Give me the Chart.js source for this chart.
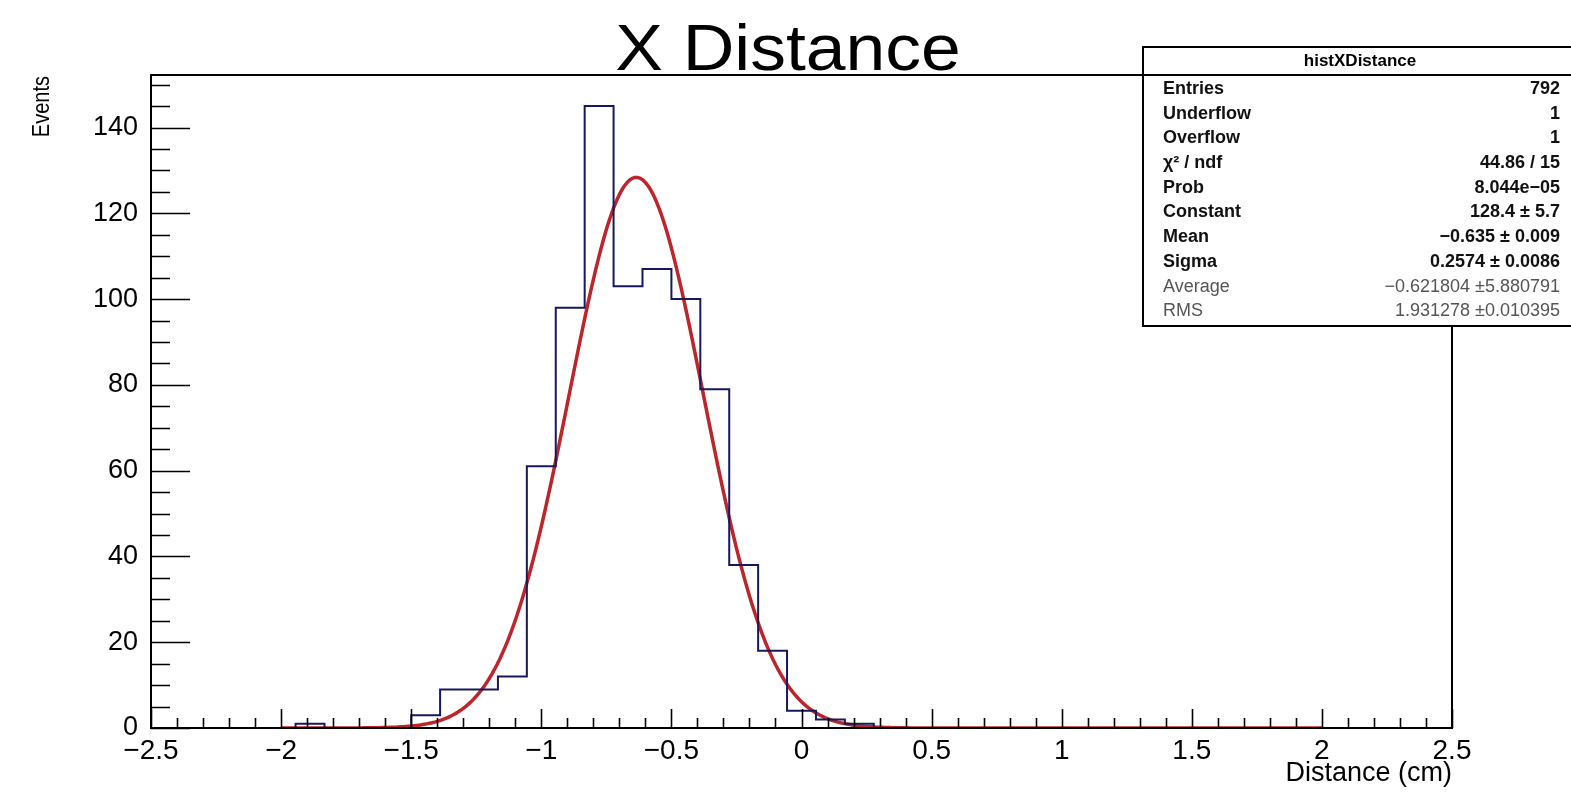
<!DOCTYPE html>
<html>
<head>
<meta charset="utf-8">
<title>X Distance</title>
<script src="https://cdn.jsdelivr.net/npm/chart.js@4"></script>
<style>
  body { margin: 0; background: #fff; }
  canvas { display: block; }
</style>
</head>
<body>
<canvas id="histChart" width="1571" height="793"></canvas>
<script>
// histXDistance: 45 bins from -2.5 to 2.5 cm
const binLow = -2.5;
const binHigh = 2.5;
const binCounts = [
  0, 0, 0, 0, 0, 1, 0, 0, 0, 3,
  9, 9, 12, 61, 98, 145, 103, 107, 100, 79,
  38, 18, 4, 2, 1, 0, 0, 0, 0, 0,
  0, 0, 0, 0, 0, 0, 0, 0, 0, 0,
  0, 0, 0, 0, 0
];

// gaussian fit result, drawn over [-2, 2]
const fitConstant = 128.4;
const fitMean = -0.635;
const fitSigma = 0.2574;
const fitRange = [-2, 2];

const xTicks = [-2.5, -2, -1.5, -1, -0.5, 0, 0.5, 1, 1.5, 2, 2.5];
const yTicks = [0, 20, 40, 60, 80, 100, 120, 140];
const yMax = 152.25;

const statsRows = [
  ["Entries", "792"],
  ["Underflow", "1"],
  ["Overflow", "1"],
  ["\u03c7\u00b2 / ndf", "44.86 / 15"],
  ["Prob", "8.044e\u221205"],
  ["Constant", "128.4 \u00b1 5.7"],
  ["Mean", "\u22120.635 \u00b1 0.009"],
  ["Sigma", "0.2574 \u00b1 0.0086"],
  ["Average", "\u22120.621804 \u00b15.880791"],
  ["RMS", "1.931278 \u00b10.010395"]
];

const FONT = "'Liberation Sans', Arial, Helvetica, sans-serif";
const binWidth = (binHigh - binLow) / binCounts.length;

const histPoints = binCounts.map((c, i) => ({ x: binLow + i * binWidth, y: c }));
histPoints.push({ x: binHigh, y: 0 });

const fitPoints = [];
for (let i = 0; i <= 400; i++) {
  const x = fitRange[0] + (fitRange[1] - fitRange[0]) * i / 400;
  const z = (x - fitMean) / fitSigma;
  fitPoints.push({ x: x, y: fitConstant * Math.exp(-0.5 * z * z) });
}

const minus = v => {
  const s = String(Math.round(v * 10) / 10);
  return s.replace("-", "\u2212");
};

// frame, inward ticks, titles and the stats box, ROOT style
const rootDecor = {
  id: "rootDecor",
  afterDraw(chart) {
    const ctx = chart.ctx;
    const a = chart.chartArea;
    const xs = chart.scales.x;
    const ys = chart.scales.y;
    ctx.save();

    ctx.strokeStyle = "#000";
    ctx.lineWidth = 1.6;
    ctx.beginPath();
    for (let i = 0; i <= 50; i++) {
      const v = binLow + i * 0.1;
      const px = Math.round(xs.getPixelForValue(v)) + 0.5;
      const len = i % 5 === 0 ? 19 : 10;
      ctx.moveTo(px, a.bottom);
      ctx.lineTo(px, a.bottom - len);
    }
    for (let v = 0; v <= yMax; v += 5) {
      const py = Math.round(ys.getPixelForValue(v)) + 0.5;
      const len = v % 20 === 0 ? 39 : 19;
      ctx.moveTo(a.left, py);
      ctx.lineTo(a.left + len, py);
    }
    ctx.stroke();

    ctx.lineWidth = 2;
    ctx.strokeRect(a.left, a.top, a.right - a.left, a.bottom - a.top);

    // titles (slightly wide lettering)
    ctx.fillStyle = "#000";
    ctx.textBaseline = "alphabetic";
    ctx.save();
    ctx.translate(788, 70);
    ctx.scale(1.1, 1);
    ctx.font = "65px " + FONT;
    ctx.textAlign = "center";
    ctx.fillText("X Distance", 0, 0);
    ctx.restore();

    ctx.font = "27px " + FONT;
    ctx.textAlign = "right";
    ctx.fillText("Distance (cm)", 1452, 781);

    ctx.save();
    ctx.translate(49, 76);
    ctx.rotate(-Math.PI / 2);
    ctx.scale(1, 1.15);
    ctx.font = "20px " + FONT;
    ctx.textAlign = "right";
    ctx.fillText("Events", 0, 0);
    ctx.restore();

    // stats box
    const bx = 1143, by = 47, bw = 440, bh = 279;
    ctx.fillStyle = "#fff";
    ctx.fillRect(bx, by, bw, bh);
    ctx.strokeStyle = "#000";
    ctx.lineWidth = 2;
    ctx.strokeRect(bx, by, bw, bh);
    ctx.beginPath();
    ctx.moveTo(bx, 75);
    ctx.lineTo(bx + bw, 75);
    ctx.stroke();

    ctx.fillStyle = "#000";
    ctx.textBaseline = "middle";
    ctx.textAlign = "center";
    ctx.font = "bold 17px " + FONT;
    ctx.fillText("histXDistance", 1360, 61);

    statsRows.forEach((row, i) => {
      const y = 89 + i * 24.7;
      const plain = i >= 8;
      ctx.font = (plain ? "" : "bold ") + "18px " + FONT;
      ctx.fillStyle = plain ? "#555" : "#111";
      ctx.textAlign = "left";
      ctx.fillText(row[0], 1163, y);
      ctx.textAlign = "right";
      ctx.fillText(row[1], 1560, y);
    });

    ctx.restore();
  }
};

new Chart(document.getElementById("histChart"), {
  type: "line",
  data: {
    datasets: [
      {
        label: "histXDistance",
        data: histPoints,
        stepped: "before",
        borderColor: "#16195c",
        borderWidth: 2,
        pointRadius: 0,
        fill: false
      },
      {
        label: "gaus",
        data: fitPoints,
        borderColor: "#bd252a",
        borderWidth: 3.5,
        pointRadius: 0,
        tension: 0,
        fill: false
      }
    ]
  },
  options: {
    responsive: false,
    animation: false,
    layout: { padding: { top: 75, right: 119, left: 0, bottom: 0 } },
    plugins: {
      legend: { display: false },
      tooltip: { enabled: false }
    },
    scales: {
      x: {
        type: "linear",
        min: binLow,
        max: binHigh,
        afterFit: s => { s.height = 65; },
        afterBuildTicks: s => { s.ticks = xTicks.map(v => ({ value: v })); },
        grid: { display: false, drawTicks: false },
        border: { display: false },
        ticks: {
          padding: 6,
          color: "#000",
          font: { family: FONT, size: 28 },
          maxRotation: 0,
          autoSkip: false,
          callback: v => minus(v)
        }
      },
      y: {
        min: 0,
        max: yMax,
        afterFit: s => { s.width = 151; },
        afterBuildTicks: s => { s.ticks = yTicks.map(v => ({ value: v })); },
        grid: { display: false, drawTicks: false },
        border: { display: false },
        ticks: {
          padding: 13,
          color: "#000",
          font: { family: FONT, size: 27 },
          callback: v => String(v)
        }
      }
    }
  },
  plugins: [rootDecor]
});
</script>
</body>
</html>
